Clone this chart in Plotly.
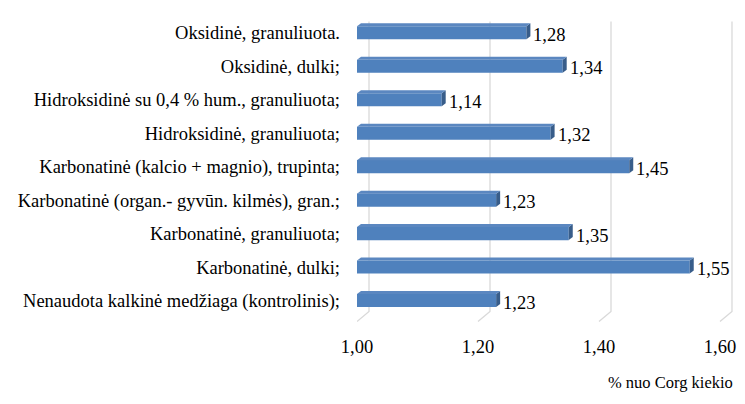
import plotly.graph_objects as go

categories = [
    "Nenaudota kalkinė medžiaga (kontrolinis);",
    "Karbonatinė, dulki;",
    "Karbonatinė, granuliuota;",
    "Karbonatinė (organ.- gyvūn. kilmės), gran.;",
    "Karbonatinė (kalcio + magnio), trupinta;",
    "Hidroksidinė, granuliuota;",
    "Hidroksidinė su 0,4 % hum., granuliuota;",
    "Oksidinė, dulki;",
    "Oksidinė, granuliuota.",
]
values = [1.23, 1.55, 1.35, 1.23, 1.45, 1.32, 1.14, 1.34, 1.28]
value_labels = ["1,23", "1,55", "1,35", "1,23", "1,45", "1,32", "1,14", "1,34", "1,28"]
x_ticks = [1.0, 1.2, 1.4, 1.6]
x_tick_labels = ["1,00", "1,20", "1,40", "1,60"]
x_title = "% nuo Corg kiekio"

FONT = "Liberation Serif"
FS = 18.5
FRONT = "#4F81BD"
SIDE = "#385D8A"
TOP = "#5B87C0"
GRID = "#D9D9D9"

# page body has an 8px margin on every side; keep the figure inside the window
OFF = 8

ypos = list(range(len(categories)))
bar_w = 0.39
half_px = 6.5
dx_px, dy_px = 4, 3
px_per_unit = 605.0
ddata = dx_px / px_per_unit

fig = go.Figure()
fig.add_trace(go.Bar(
    x=values, y=ypos, orientation="h", width=bar_w,
    marker=dict(color=FRONT, line=dict(width=0)),
    customdata=categories,
    hovertemplate="%{customdata}: %{x}<extra></extra>",
))

shapes = []
for t in x_ticks:
    shapes.append(dict(type="path", xref="x", yref="y", xsizemode="pixel", xanchor=t,
                       ysizemode="pixel", yanchor=0,
                       path="M 12,279 L 12,-11 L 0,-21",
                       line=dict(color=GRID, width=1.3), layer="below"))

for v, y in zip(values, ypos):
    shapes.append(dict(type="path", xref="x", yref="y", xsizemode="pixel", xanchor=v,
                       ysizemode="pixel", yanchor=y,
                       path=f"M 0,{-half_px} L 0,{half_px} L {dx_px},{half_px+dy_px} L {dx_px},{-half_px+dy_px} Z",
                       fillcolor=SIDE, line=dict(width=0), layer="above"))
    shapes.append(dict(type="path", xref="x", yref="y", ysizemode="pixel", yanchor=y,
                       path=f"M 1.0,{half_px} L {v},{half_px} L {v+ddata},{half_px+dy_px} L {1.0+ddata},{half_px+dy_px} Z",
                       fillcolor=TOP, line=dict(width=0), layer="above"))

annotations = []
for v, y, lab in zip(values, ypos, value_labels):
    annotations.append(dict(x=v, y=y, xref="x", yref="y", text=lab, showarrow=False,
                            xanchor="left", xshift=5, yshift=-2,
                            font=dict(family=FONT, size=FS, color="black")))
annotations.append(dict(x=1.0, y=0, xref="paper", yref="paper", text=x_title,
                        showarrow=False, xanchor="right", yanchor="bottom",
                        xshift=2, yshift=-70,
                        font=dict(family=FONT, size=16.5, color="black")))

fig.update_layout(
    width=745 - 2 * OFF, height=404 - 2 * OFF,
    margin=dict(l=357 - OFF, r=4, t=16 - OFF, b=71.5, autoexpand=False),
    paper_bgcolor="white", plot_bgcolor="white",
    showlegend=False, barmode="overlay",
    font=dict(family=FONT, size=FS, color="black"),
    shapes=shapes, annotations=annotations,
    xaxis=dict(range=[1.0, 1.6215], tickvals=x_ticks, ticktext=x_tick_labels,
               showgrid=False, zeroline=False, showline=False, automargin=False,
               ticks="", ticklabelstandoff=9, ticklabeloverflow="allow",
               tickfont=dict(family=FONT, size=FS, color="black")),
    yaxis=dict(range=[-0.7, 8.5], tickvals=ypos, ticktext=categories,
               showgrid=False, zeroline=False, showline=False, automargin=False,
               ticks="", ticklabelstandoff=16,
               tickfont=dict(family=FONT, size=FS, color="black")),
)

fig.write_html("out.html")
